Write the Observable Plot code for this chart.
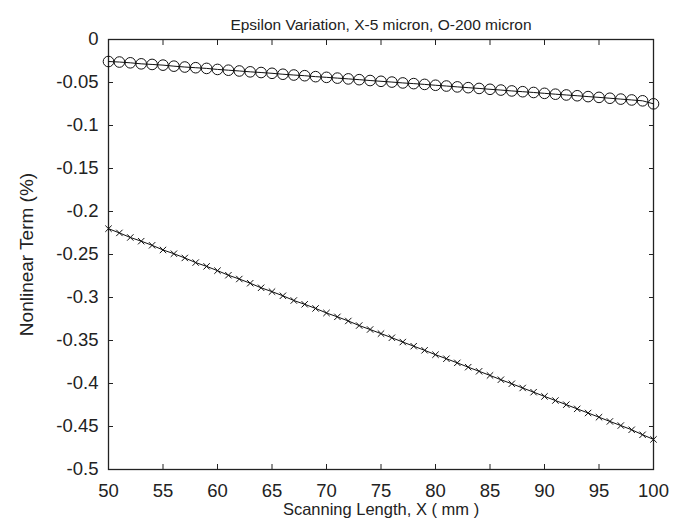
<!DOCTYPE html>
<html>
<head>
<meta charset="utf-8">
<script src="https://cdn.jsdelivr.net/npm/d3@7"></script>
<script src="https://cdn.jsdelivr.net/npm/@observablehq/plot@0.6"></script>
<style>
  html, body { margin: 0; padding: 0; background: #fff; }
  #chart { width: 687px; height: 528px; }
  svg { font-family: "Liberation Sans", Arial, sans-serif; }
</style>
</head>
<body>
<div id="chart"></div>
<script>
const titleText = "Epsilon Variation, X-5 micron, O-200 micron";
const xLabel = "Scanning Length, X ( mm )";
const yLabel = "Nonlinear Term (%)";

const scanX = [50,51,52,53,54,55,56,57,58,59,60,61,62,63,64,65,66,67,68,69,70,71,72,73,74,75,76,77,78,79,80,81,82,83,84,85,86,87,88,89,90,91,92,93,94,95,96,97,98,99,100];

// O - 200 micron
const circleY = [-0.0256,-0.0262,-0.0271,-0.0283,-0.0290,-0.0298,-0.0310,-0.0320,-0.0328,-0.0336,-0.0348,-0.0357,-0.0366,-0.0376,-0.0384,-0.0393,-0.0404,-0.0413,-0.0421,-0.0432,-0.0440,-0.0449,-0.0458,-0.0467,-0.0477,-0.0486,-0.0495,-0.0505,-0.0513,-0.0522,-0.0532,-0.0541,-0.0551,-0.0560,-0.0569,-0.0579,-0.0588,-0.0598,-0.0607,-0.0616,-0.0626,-0.0636,-0.0645,-0.0654,-0.0664,-0.0673,-0.0683,-0.0693,-0.0703,-0.0713,-0.0748];

// X - 5 micron
const crossY = [-0.2200,-0.2249,-0.2302,-0.2345,-0.2393,-0.2447,-0.2491,-0.2540,-0.2594,-0.2638,-0.2688,-0.2741,-0.2785,-0.2834,-0.2887,-0.2932,-0.2980,-0.3035,-0.3079,-0.3127,-0.3180,-0.3225,-0.3273,-0.3326,-0.3372,-0.3420,-0.3468,-0.3518,-0.3566,-0.3614,-0.3665,-0.3712,-0.3760,-0.3810,-0.3858,-0.3906,-0.3956,-0.4003,-0.4052,-0.4101,-0.4150,-0.4198,-0.4246,-0.4295,-0.4343,-0.4392,-0.4441,-0.4489,-0.4538,-0.4596,-0.4650];

const xTicks = [50,55,60,65,70,75,80,85,90,95,100];
const yTicks = [0,-0.05,-0.1,-0.15,-0.2,-0.25,-0.3,-0.35,-0.4,-0.45,-0.5];
const yTickLabels = ["0","-0.05","-0.1","-0.15","-0.2","-0.25","-0.3","-0.35","-0.4","-0.45","-0.5"];

const circles = scanX.map((x, i) => ({x, y: circleY[i]}));
const crosses = scanX.map((x, i) => ({x, y: crossY[i]}));

const chart = Plot.plot({
  width: 687,
  height: 528,
  marginLeft: 108,
  marginRight: 34,
  marginTop: 39,
  marginBottom: 59,
  style: {fontFamily: "'Liberation Sans', Arial, sans-serif", fontSize: "15px", color: "#222", background: "#fff"},
  x: {domain: [50, 100]},
  y: {domain: [-0.5, 0]},
  marks: [
    Plot.frame({stroke: "#222", strokeWidth: 1.3}),
    Plot.axisX({anchor: "bottom", ticks: xTicks, tickSize: -5, tickPadding: 19, label: null, fontSize: 18.5, stroke: "#222", color: "#222"}),
    Plot.axisX({anchor: "top", ticks: xTicks, tickSize: -5, tickFormat: () => "", label: null, stroke: "#222"}),
    Plot.axisY({anchor: "left", ticks: yTicks, tickSize: -5, tickPadding: 15, tickFormat: (d) => yTickLabels[yTicks.indexOf(d)] ?? "", label: null, fontSize: 18.5, stroke: "#222"}),
    Plot.axisY({anchor: "right", ticks: yTicks, tickSize: -5, tickFormat: () => "", label: null, stroke: "#222"}),
    Plot.line(circles, {x: "x", y: "y", stroke: "#111", strokeWidth: 1}),
    Plot.dot(circles, {x: "x", y: "y", r: 5.3, stroke: "#111", strokeWidth: 1, fill: "none"}),
    Plot.line(crosses, {x: "x", y: "y", stroke: "#111", strokeWidth: 1}),
    Plot.dot(crosses, {x: "x", y: "y", symbol: "times", r: 3, stroke: "#111", strokeWidth: 1}),
    Plot.text([titleText], {frameAnchor: "top", dy: -21, fontSize: 15.5, fill: "#222"}),
    Plot.text([xLabel], {frameAnchor: "bottom", dy: 45, fontSize: 16.5, fill: "#222"}),
    Plot.text([yLabel], {frameAnchor: "left", textAnchor: "middle", dx: -82, rotate: -90, fontSize: 19, fill: "#222", letterSpacing: "1.4px"})
  ]
});
document.getElementById("chart").appendChild(chart);
</script>
</body>
</html>
